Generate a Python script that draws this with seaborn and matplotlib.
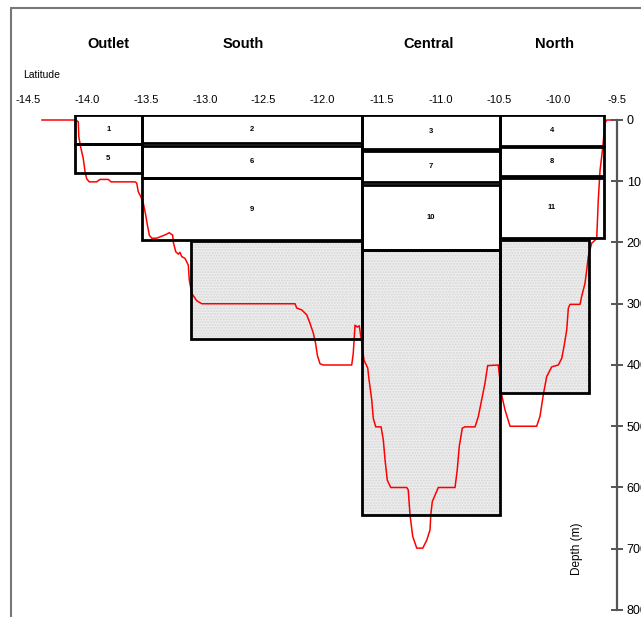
import matplotlib
matplotlib.use("Agg")
import matplotlib.pyplot as plt
from matplotlib.patches import Rectangle
from matplotlib.lines import Line2D
from matplotlib.transforms import blended_transform_factory
import seaborn as sns
import pandas as pd

sns.set_style("white")
plt.rcParams["font.family"] = ["Liberation Sans", "DejaVu Sans"]
plt.rcParams["text.color"] = "black"

# Bottom profile along the lake axis (latitude, depth in m)
profile_lat = [-14.384, -14.095, -14.073, -14.069, -14.053, -14.031, -14.016, -14.002, -13.980,
               -13.917, -13.889, -13.818, -13.795, -13.591, -13.577, -13.564, -13.543, -13.521,
               -13.501, -13.487, -13.470, -13.450, -13.408, -13.329, -13.301, -13.272, -13.267,
               -13.246, -13.224, -13.210, -13.195, -13.167, -13.139, -13.131, -13.110, -13.068,
               -13.025, -12.233, -12.219, -12.177, -12.134, -12.106, -12.078, -12.058, -12.044,
               -12.021, -11.993, -11.752, -11.739, -11.730, -11.724, -11.705, -11.688, -11.662,
               -11.648, -11.616, -11.605, -11.582, -11.569, -11.548, -11.503, -11.484, -11.469,
               -11.450, -11.421, -11.285, -11.272, -11.257, -11.234, -11.200, -11.149, -11.115,
               -11.087, -11.081, -11.068, -11.017, -10.875, -10.856, -10.839, -10.813, -10.790,
               -10.705, -10.677, -10.649, -10.621, -10.598, -10.508, -10.479, -10.451, -10.408,
               -10.182, -10.154, -10.126, -10.097, -10.054, -9.998, -9.969, -9.950, -9.927,
               -9.913, -9.899, -9.814, -9.800, -9.772, -9.757, -9.744, -9.729, -9.715, -9.701,
               -9.672, -9.667, -9.659, -9.644, -9.630, -9.621, -9.602, -9.587, -9.545]
profile_depth = [0, 0, 3, 27, 44, 63, 84, 96, 101,
                 101, 97, 97, 101, 101, 103, 117, 125, 136,
                 155, 171, 188, 193, 193, 187, 184, 188, 199,
                 215, 219, 216, 223, 226, 237, 261, 283, 295,
                 300, 300, 307, 310, 318, 332, 348, 365, 384,
                 398, 400, 400, 381, 354, 335, 338, 336, 370,
                 392, 405, 424, 457, 487, 501, 501, 522, 555,
                 588, 600, 600, 604, 645, 680, 699, 699, 686,
                 669, 645, 623, 600, 600, 571, 533, 503, 501,
                 501, 484, 457, 430, 401, 400, 449, 473, 500,
                 500, 484, 449, 419, 403, 400, 389, 370, 343,
                 307, 301, 301, 288, 267, 245, 223, 212, 201, 199,
                 193, 169, 131, 82, 60, 45, 5, 0, 0]

# Model layers: label, west/east latitude, top/bottom depth
box_labels = ["1", "5", "2", "6", "9", "3", "7", "10", "4", "8", "11"]
box_west = [-14.101, -14.101, -13.535, -13.535, -13.535, -11.667, -11.667, -11.667, -10.493, -10.493, -10.493]
box_east = [-13.535, -13.535, -11.667, -11.667, -11.667, -10.493, -10.493, -10.493, -9.610, -9.610, -9.610]
box_top = [-8, 39, -8, 43, 95, -8, 50, 106, -8, 44, 94]
box_bottom = [39, 87, 38, 94, 196, 47, 102, 212, 42, 91, 193]

# Deep (hypolimnion) layers, shaded
deep_west = [-13.119, -11.667, -10.493]
deep_east = [-11.667, -10.493, -9.738]
deep_top = [197, 213, 196]
deep_bottom = [358, 645, 446]

# Basin names and their positions
basin_names = ["Outlet", "South", "Central", "North"]
basin_lat = [-13.82, -12.67, -11.10, -10.03]

lat_ticks = [-14.5, -14.0, -13.5, -13.0, -12.5, -12.0, -11.5, -11.0, -10.5, -10.0, -9.5]
depth_ticks = [0, 100, 200, 300, 400, 500, 600, 700, 800]

W, H = 641, 617
fig = plt.figure(figsize=(W / 100, H / 100), dpi=100)
ax = fig.add_axes([28 / W, 1 - 610 / H, (617 - 28) / W, (610 - 115) / H])
ax.set_xlim(-14.5, -9.5)
ax.set_ylim(800, -8.16)

# shaded deep layers
for x0, x1, t, b in zip(deep_west, deep_east, deep_top, deep_bottom):
    ax.add_patch(Rectangle((x0, t), x1 - x0, b - t, facecolor="#eeeeee",
                           edgecolor="#d6d6d6", hatch="......", lw=0, zorder=1))
    ax.add_patch(Rectangle((x0, t), x1 - x0, b - t, facecolor="none",
                           edgecolor="black", lw=2.0, zorder=3))

# upper layers
for lab, x0, x1, t, b in zip(box_labels, box_west, box_east, box_top, box_bottom):
    ax.add_patch(Rectangle((x0, t), x1 - x0, b - t, facecolor="none",
                           edgecolor="black", lw=2.0, zorder=3))
    ax.text((x0 + x1) / 2, (t + b) / 2, lab, ha="center", va="center",
            fontsize=5.5, fontweight="bold", zorder=4)

df = pd.DataFrame({"lat": profile_lat, "depth": profile_depth})
sns.lineplot(data=df, x="lat", y="depth", sort=False, estimator=None,
             color="#ff0000", lw=1.1, ax=ax, zorder=2)
ax.set_xlabel("")
ax.set_ylabel("")

# axes styling
for side in ["left", "top", "bottom"]:
    ax.spines[side].set_visible(False)
ax.spines["right"].set_visible(True)
ax.spines["right"].set_color("#555555")
ax.spines["right"].set_linewidth(1.6)
ax.spines["right"].set_bounds(0, 800)

ax.yaxis.tick_right()
ax.set_yticks(depth_ticks)
ax.set_yticklabels([str(d) for d in depth_ticks])
ax.tick_params(axis="y", direction="inout", length=8, width=1.4, color="#555555",
               pad=3, labelsize=9, labelcolor="black")

ax.xaxis.tick_top()
ax.set_xticks(lat_ticks)
ax.set_xticklabels(["%.1f" % v for v in lat_ticks])
ax.tick_params(axis="x", length=0, pad=7, labelsize=8, labelcolor="black")

# basin names: x in latitude, y in figure fraction
name_tr = blended_transform_factory(ax.transData, fig.transFigure)
for name, lat in zip(basin_names, basin_lat):
    ax.text(lat, 1 - 44 / H, name, transform=name_tr, ha="center", va="center",
            fontsize=10.5, fontweight="bold", clip_on=False)

fig.text(23 / W, 1 - 75 / H, "Latitude", ha="left", va="center", fontsize=7.5)
fig.text(577 / W, 1 - 549 / H, "Depth (m)", ha="center", va="center", fontsize=8.5,
         rotation=90)

# chart frame
fig.add_artist(Line2D([11 / W, 11 / W], [0, 1 - 8 / H], transform=fig.transFigure,
                      color="#777777", lw=1.5))
fig.add_artist(Line2D([11 / W, 1], [1 - 8 / H, 1 - 8 / H], transform=fig.transFigure,
                      color="#777777", lw=1.5))

fig.savefig("out.png", dpi=100)
